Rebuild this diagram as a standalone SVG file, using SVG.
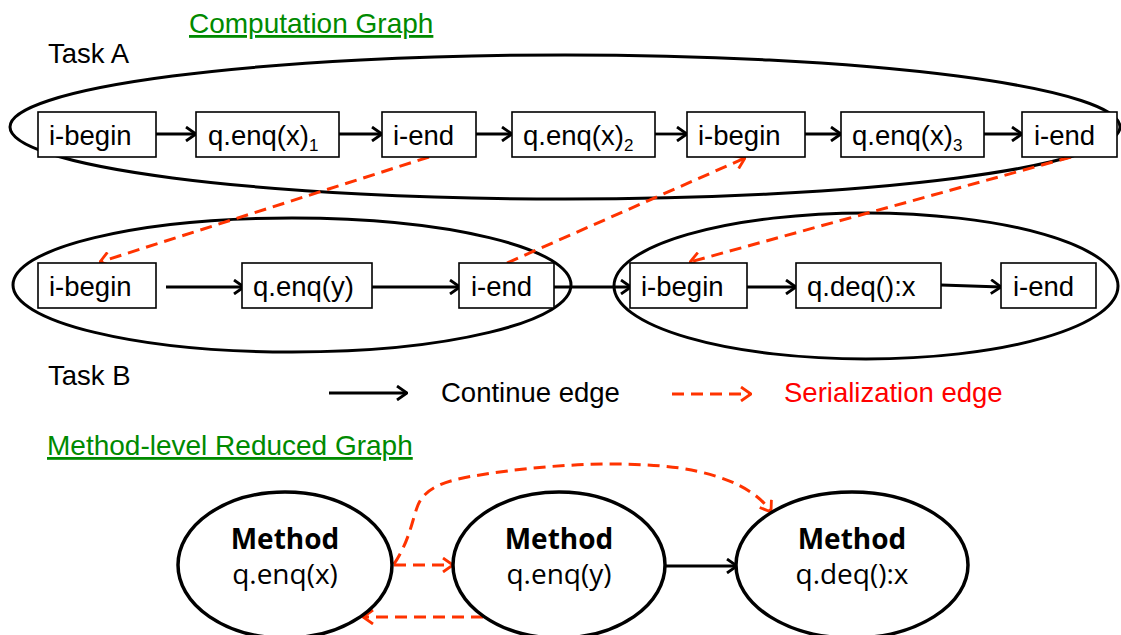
<svg xmlns="http://www.w3.org/2000/svg" width="1121" height="635" viewBox="0 0 1121 635">
<style>
.t{font-family:"Liberation Sans",Arial,sans-serif;font-size:27.5px;fill:#000}
.ttl{font-family:"Liberation Sans",Arial,sans-serif;font-size:28px;fill:#008a00;text-decoration:underline}
.box{fill:#fff;stroke:#000;stroke-width:1.6}
.grp{fill:none;stroke:#000;stroke-width:3}
.m{fill:#fff;stroke:#000;stroke-width:3.5}
.ce{fill:none;stroke:#000;stroke-width:2.8;marker-end:url(#ab)}
.se{fill:none;stroke:#ff3300;stroke-width:3;stroke-dasharray:12 7;marker-end:url(#ar)}
.mh{font-family:"Open Sans","DejaVu Sans",sans-serif;font-weight:bold;font-size:28px;text-anchor:middle}
.ml{font-family:"Open Sans","DejaVu Sans",sans-serif;font-size:28px;text-anchor:middle}
</style>
<defs>
<marker id="ab" viewBox="0 0 12 16" refX="11" refY="8" markerWidth="12" markerHeight="16" markerUnits="userSpaceOnUse" orient="auto"><path d="M1,1 L11,8 L1,15" fill="none" stroke="#000" stroke-width="2.8"/></marker>
<marker id="ar" viewBox="0 0 12 16" refX="11" refY="8" markerWidth="12" markerHeight="16" markerUnits="userSpaceOnUse" orient="auto"><path d="M1,1 L11,8 L1,15" fill="none" stroke="#ff3300" stroke-width="2.8"/></marker>
</defs>
<rect width="1121" height="635" fill="#fff"/>

<text class="ttl" x="189" y="33">Computation Graph</text>
<text class="t" x="48" y="63">Task A</text>
<text class="t" x="48" y="385">Task B</text>
<text class="ttl" x="47" y="455">Method-level Reduced Graph</text>

<g id="groups">
<ellipse class="grp" cx="565" cy="127" rx="555" ry="72"/>
<ellipse class="grp" cx="292" cy="285" rx="279" ry="67"/>
<ellipse class="grp" cx="866" cy="286" rx="252" ry="73"/>
</g>

<g id="connectors">
<line class="ce" x1="156" y1="134" x2="196" y2="134"/>
<line class="ce" x1="339" y1="134" x2="382" y2="134"/>
<line class="ce" x1="476" y1="134" x2="512" y2="134"/>
<line class="ce" x1="655" y1="134" x2="687" y2="134"/>
<line class="ce" x1="805" y1="134" x2="841" y2="134"/>
<line class="ce" x1="984" y1="134" x2="1022" y2="134"/>
<line class="ce" x1="166" y1="287" x2="244" y2="287"/>
<line class="ce" x1="372" y1="287" x2="460" y2="287"/>
<line class="ce" x1="554" y1="287" x2="631" y2="287"/>
<line class="ce" x1="747" y1="287" x2="796" y2="287"/>
<line class="ce" x1="941" y1="285" x2="1001" y2="287"/>
<line class="se" x1="429" y1="157" x2="100" y2="262"/>
<line class="se" x1="507" y1="263" x2="745" y2="158"/>
<line class="se" x1="1071" y1="157" x2="690" y2="262"/>
<line class="ce" x1="329" y1="393" x2="407" y2="393"/>
<line class="se" x1="672" y1="394" x2="751" y2="394"/>
<line class="ce" x1="665" y1="566" x2="737" y2="566"/>
<line class="se" x1="394" y1="565" x2="453" y2="565"/>
<line class="se" x1="483" y1="617" x2="363" y2="617"/>
<path class="se" d="M394,564 C410,540 412,520 418,505 C425,488 445,480 480,475 C540,465 620,460 680,468 C730,476 758,492 771,512"/>
</g>

<text class="t" x="441" y="402">Continue edge</text>
<text class="t" x="784" y="402" style="fill:#ff0000">Serialization edge</text>

<g id="a1"><rect class="box" x="38" y="112" width="118" height="45"/><text class="t" x="49" y="145">i-begin</text></g>
<g id="a2"><rect class="box" x="196" y="112" width="143" height="45"/><text class="t" x="208" y="145">q.enq(x)<tspan font-size="17" dy="6">1</tspan></text></g>
<g id="a3"><rect class="box" x="382" y="112" width="94" height="45"/><text class="t" x="393" y="145">i-end</text></g>
<g id="a4"><rect class="box" x="512" y="112" width="143" height="45"/><text class="t" x="523" y="145">q.enq(x)<tspan font-size="17" dy="6">2</tspan></text></g>
<g id="a5"><rect class="box" x="687" y="112" width="118" height="45"/><text class="t" x="698" y="145">i-begin</text></g>
<g id="a6"><rect class="box" x="841" y="112" width="143" height="45"/><text class="t" x="852" y="145">q.enq(x)<tspan font-size="17" dy="6">3</tspan></text></g>
<g id="a7"><rect class="box" x="1022" y="112" width="95" height="45"/><text class="t" x="1034" y="145">i-end</text></g>

<g id="b1"><rect class="box" x="38" y="263" width="118" height="45"/><text class="t" x="49" y="296">i-begin</text></g>
<g id="b2"><rect class="box" x="242" y="263" width="130" height="45"/><text class="t" x="253" y="296">q.enq(y)</text></g>
<g id="b3"><rect class="box" x="459" y="263" width="95" height="45"/><text class="t" x="471" y="296">i-end</text></g>
<g id="b4"><rect class="box" x="630" y="263" width="117" height="45"/><text class="t" x="641" y="296">i-begin</text></g>
<g id="b5"><rect class="box" x="796" y="263" width="145" height="45"/><text class="t" x="807" y="296">q.deq():x</text></g>
<g id="b6"><rect class="box" x="1001" y="263" width="95" height="45"/><text class="t" x="1013" y="296">i-end</text></g>

<g id="m1"><ellipse class="m" cx="285" cy="565" rx="107" ry="73"/><text class="mh" x="285" y="549">Method</text><text class="ml" x="285" y="584">q.enq(x)</text></g>
<g id="m2"><ellipse class="m" cx="559" cy="565" rx="106" ry="73"/><text class="mh" x="559" y="549">Method</text><text class="ml" x="559" y="584">q.enq(y)</text></g>
<g id="m3"><ellipse class="m" cx="852" cy="565" rx="116" ry="73"/><text class="mh" x="852" y="549">Method</text><text class="ml" x="852" y="584">q.deq():x</text></g>
</svg>
